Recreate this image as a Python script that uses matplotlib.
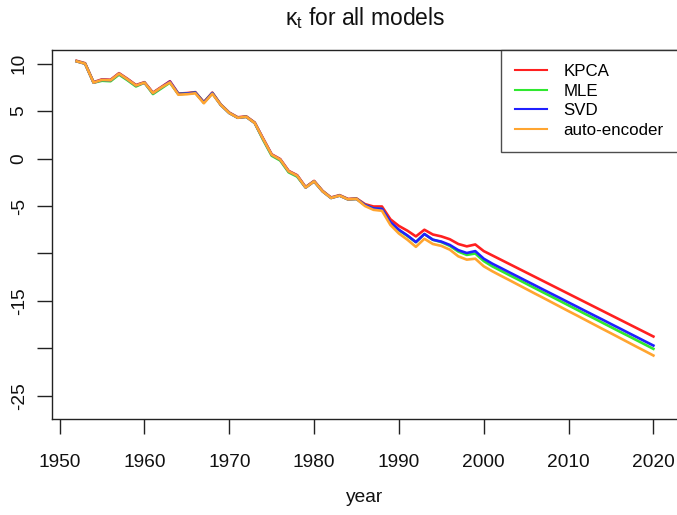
import matplotlib
matplotlib.use("Agg")
import matplotlib.pyplot as plt

plt.rcParams["font.family"] = ["Liberation Sans", "DejaVu Sans"]
plt.rcParams["mathtext.fontset"] = "custom"
plt.rcParams["mathtext.rm"] = "Liberation Sans"
plt.rcParams["mathtext.it"] = "Liberation Sans:italic"
plt.rcParams["axes.unicode_minus"] = False

years = list(range(1952, 2021))

kpca = [10.30, 10.05, 8.05, 8.35, 8.30, 9.00, 8.40, 7.75, 8.05, 6.95,
        7.55, 8.15, 6.85, 6.90, 7.00, 5.95, 6.95, 5.70, 4.85, 4.35,
        4.45, 3.80, 2.10, 0.45, -0.05, -1.30, -1.75, -3.00, -2.35, -3.40,
        -4.10, -3.85, -4.25, -4.20, -4.80, -5.05, -5.05, -6.40, -7.10, -7.60,
        -8.20, -7.50, -8.00, -8.20, -8.50, -9.00, -9.25, -9.05, -9.75,
        -10.20, -10.65, -11.10, -11.55, -12.00, -12.45, -12.90, -13.35, -13.80, -14.25,
        -14.70, -15.15, -15.60, -16.05, -16.50, -16.95, -17.40, -17.85, -18.30, -18.75]

mle = [10.25, 10.00, 8.00, 8.20, 8.15, 8.85, 8.25, 7.60, 8.00, 6.80,
       7.40, 8.00, 6.80, 6.85, 6.95, 5.90, 6.90, 5.65, 4.80, 4.30,
       4.40, 3.75, 1.95, 0.30, -0.20, -1.45, -1.90, -3.05, -2.40, -3.45,
       -4.15, -3.90, -4.30, -4.25, -4.90, -5.25, -5.30, -6.75, -7.55, -8.15,
       -8.80, -7.95, -8.55, -8.80, -9.20, -9.80, -10.15, -10.00, -10.80,
       -11.35, -11.81, -12.27, -12.72, -13.18, -13.64, -14.10, -14.55, -15.01, -15.47,
       -15.93, -16.39, -16.84, -17.30, -17.76, -18.22, -18.67, -19.13, -19.59, -20.05]

svd = [10.25, 10.00, 8.00, 8.30, 8.25, 8.95, 8.35, 7.70, 8.00, 6.90,
       7.50, 8.10, 6.80, 6.85, 6.95, 5.90, 6.90, 5.65, 4.80, 4.30,
       4.40, 3.75, 2.05, 0.40, -0.10, -1.35, -1.80, -3.05, -2.40, -3.45,
       -4.15, -3.90, -4.30, -4.25, -4.90, -5.25, -5.30, -6.70, -7.50, -8.10,
       -8.80, -7.95, -8.55, -8.75, -9.10, -9.65, -9.95, -9.75, -10.55,
       -11.07, -11.52, -11.98, -12.43, -12.89, -13.34, -13.80, -14.25, -14.70, -15.16,
       -15.61, -16.07, -16.52, -16.97, -17.43, -17.88, -18.34, -18.79, -19.25, -19.70]

autoenc = [10.25, 10.00, 8.00, 8.30, 8.25, 8.95, 8.35, 7.70, 8.00, 6.90,
           7.50, 8.03, 6.73, 6.78, 6.88, 5.83, 6.83, 5.65, 4.80, 4.30,
           4.40, 3.75, 2.05, 0.40, -0.10, -1.35, -1.80, -3.05, -2.40, -3.45,
           -4.15, -3.90, -4.30, -4.25, -5.00, -5.40, -5.50, -7.00, -7.90, -8.55,
           -9.30, -8.45, -9.00, -9.20, -9.60, -10.30, -10.65, -10.55, -11.35,
           -11.87, -12.34, -12.80, -13.27, -13.74, -14.21, -14.67, -15.14, -15.61, -16.08,
           -16.54, -17.01, -17.48, -17.95, -18.41, -18.88, -19.35, -19.82, -20.28, -20.75]

series = [("KPCA", kpca, "#ff2020"),
          ("MLE", mle, "#30e830"),
          ("SVD", svd, "#2020ff"),
          ("auto-encoder", autoenc, "#ffa530")]

xticks = [1950, 1960, 1970, 1980, 1990, 2000, 2010, 2020]
yticks = [10, 5, 0, -5, -10, -15, -20, -25]
ytick_labels = ["10", "5", "0", "-5", "", "-15", "", "-25"]

W, H = 677, 515
fig = plt.figure(figsize=(W / 100, H / 100), dpi=100)
ax = fig.add_axes([52 / W, (H - 419) / H, (678 - 52) / W, 369 / H])

for name, vals, col in series:
    ax.plot(years, vals, color=col, lw=1.9, label=name, solid_joinstyle="round")

ax.set_xlim(1949.1, 2022.9)
ax.set_ylim(-27.44, 11.44)
ax.set_xticks(xticks)
ax.set_yticks(yticks)
ax.set_yticklabels(ytick_labels, rotation=90, va="center")
ax.tick_params(axis="both", direction="out", length=10.5, width=1.0,
               color="#222222", labelsize=13.8, labelcolor="#111111")
ax.tick_params(axis="x", pad=15)
ax.tick_params(axis="y", pad=7)
for sp in ax.spines.values():
    sp.set_color("#222222")
    sp.set_linewidth(1.0)
ax.spines["right"].set_visible(False)

cx = (52 + 678) / 2 / W
fig.text(cx, 1 - 18 / H, r"$\mathrm{\kappa_t}$ for all models", ha="center",
         va="center", fontsize=16.5, color="#111111")
fig.text(cx, 1 - 497 / H, "year", ha="center", va="center",
         fontsize=13.8, color="#111111")

leg = ax.legend(loc="upper right", fontsize=12.2, frameon=True, fancybox=False,
                edgecolor="#222222", borderaxespad=0, borderpad=0.85,
                handlelength=1.9, handletextpad=0.95, labelspacing=0.26)
leg.get_frame().set_linewidth(1.0)
for h in leg.get_lines():
    h.set_linewidth(1.5)

fig.savefig("out.png", dpi=100)
